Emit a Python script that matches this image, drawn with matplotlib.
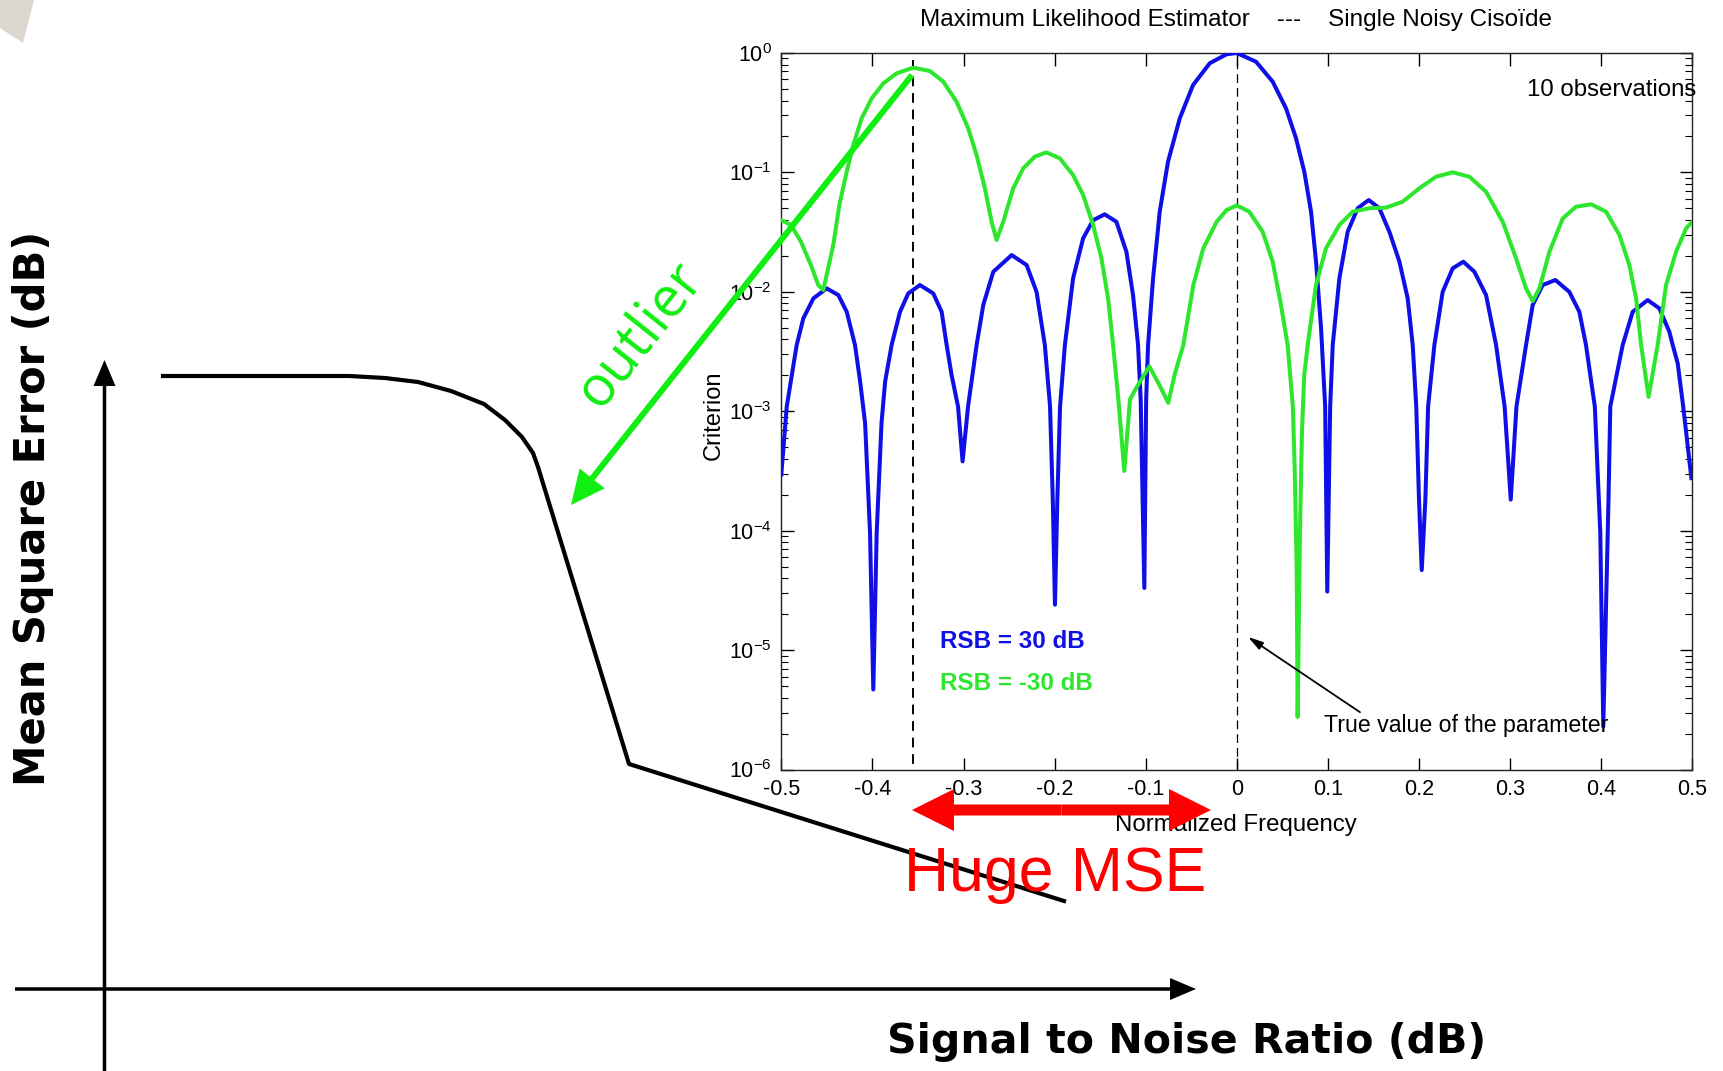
import numpy as np
import matplotlib
matplotlib.use("Agg")
import matplotlib.pyplot as plt
from matplotlib.patches import FancyArrow, Polygon
from matplotlib.ticker import FixedLocator, FixedFormatter, LogLocator, NullFormatter

plt.rcParams['axes.unicode_minus'] = False
plt.rcParams['font.family'] = ['Liberation Sans', 'DejaVu Sans']

# ---------------- inset data (criterion, log10 units) ----------------
blue_freq = [-0.500, -0.494, -0.4831, -0.4758, -0.4648, -0.4502, -0.4374, -0.4282, -0.4191, -0.4135,
             -0.408, -0.4026, -0.399, -0.3953, -0.390, -0.386, -0.3789, -0.3697, -0.3606, -0.3478,
             -0.3332, -0.3240, -0.3185, -0.313, -0.306, -0.301, -0.295, -0.2856, -0.2783, -0.2673,
             -0.2471, -0.2307, -0.2198, -0.2107, -0.205, -0.202, -0.1996, -0.197, -0.194, -0.1887,
             -0.1797, -0.1687, -0.1577, -0.145, -0.1322, -0.1212, -0.1139, -0.1084, -0.1055, -0.1015,
             -0.0995, -0.0974, -0.0919, -0.0846, -0.0755, -0.0626, -0.048, -0.0297, -0.0114, 0.000,
             0.0211, 0.0394, 0.0540, 0.065, 0.0741, 0.0815, 0.087, 0.0925, 0.097, 0.0993,
             0.1025, 0.1053, 0.1126, 0.1217, 0.1327, 0.1448, 0.1565, 0.1675, 0.1785, 0.1876,
             0.1931, 0.197, 0.200, 0.203, 0.207, 0.210, 0.2169, 0.226, 0.237, 0.2487,
             0.2608, 0.2736, 0.2846, 0.294, 0.3007, 0.307, 0.3175, 0.3248, 0.3358, 0.3497,
             0.365, 0.376, 0.3833, 0.393, 0.399, 0.4023, 0.408, 0.410, 0.4236, 0.4346,
             0.4510, 0.4638, 0.4748, 0.4785, 0.484, 0.490, 0.499]
blue_log10 = [-3.53, -2.96, -2.445, -2.222, -2.055, -1.971, -2.027, -2.167, -2.445, -2.75,
              -3.10, -4.02, -5.33, -4.02, -3.10, -2.75, -2.445, -2.167, -2.013, -1.943,
              -2.013, -2.167, -2.445, -2.70, -2.96, -3.42, -2.96, -2.445, -2.11, -1.832,
              -1.692, -1.776, -2.00, -2.445, -2.96, -3.74, -4.62, -3.74, -2.96, -2.445,
              -1.887, -1.552, -1.40, -1.351, -1.413, -1.664, -2.027, -2.445, -2.90, -4.48,
              -2.90, -2.445, -1.887, -1.329, -0.91, -0.547, -0.268, -0.086, -0.011, 0.000,
              -0.073, -0.24, -0.463, -0.714, -0.994, -1.329, -1.748, -2.306, -2.96, -4.51,
              -2.96, -2.445, -1.887, -1.497, -1.30, -1.231, -1.30, -1.497, -1.748, -2.055,
              -2.445, -2.96, -3.74, -4.33, -3.74, -2.96, -2.445, -2.00, -1.803, -1.748,
              -1.832, -2.027, -2.445, -2.96, -3.74, -2.96, -2.445, -2.11, -1.943, -1.901,
              -2.00, -2.167, -2.445, -2.96, -4.02, -5.64, -3.74, -2.96, -2.445, -2.167,
              -2.069, -2.138, -2.334, -2.445, -2.60, -2.96, -3.56]

green_freq = [-0.500, -0.4894, -0.4784, -0.4675, -0.4594, -0.4539, -0.443, -0.4363, -0.4282, -0.4209,
              -0.4118, -0.4008, -0.388, -0.3734, -0.3551, -0.3368, -0.3222, -0.3076, -0.2948, -0.2857,
              -0.2765, -0.2692, -0.2637, -0.2564, -0.2454, -0.2345, -0.2217, -0.2089, -0.1943, -0.1797,
              -0.1687, -0.1577, -0.1486, -0.1413, -0.1358, -0.130, -0.1235, -0.1172, -0.110, -0.096,
              -0.0843, -0.0752, -0.0678, -0.0587, -0.0477, -0.0368, -0.0221, -0.0112, 0.000, 0.0137,
              0.0284, 0.0394, 0.0485, 0.0558, 0.0615, 0.0635, 0.0657, 0.0668, 0.0693, 0.0715,
              0.074, 0.0778, 0.0869, 0.0979, 0.1126, 0.1272, 0.1455, 0.1638, 0.1821, 0.2004,
              0.2187, 0.237, 0.2553, 0.2736, 0.2919, 0.3065, 0.3175, 0.3248, 0.3322, 0.3432,
              0.3578, 0.3724, 0.3889, 0.4054, 0.4200, 0.4309, 0.4383, 0.4438, 0.452, 0.462,
              0.4712, 0.4822, 0.4932, 0.500]
green_log10 = [-1.40, -1.44, -1.58, -1.776, -1.943, -1.985, -1.61, -1.273, -0.994, -0.77,
               -0.547, -0.38, -0.254, -0.170, -0.123, -0.151, -0.240, -0.408, -0.631, -0.854,
               -1.133, -1.413, -1.566, -1.413, -1.133, -0.966, -0.868, -0.832, -0.882, -1.022,
               -1.189, -1.44, -1.72, -2.055, -2.445, -2.90, -3.50, -2.90, -2.80, -2.625,
               -2.79, -2.93, -2.68, -2.445, -1.943, -1.636, -1.413, -1.315, -1.276, -1.329,
               -1.497, -1.748, -2.11, -2.445, -2.96, -3.46, -4.30, -5.56, -4.02, -3.18,
               -2.70, -2.445, -1.943, -1.636, -1.44, -1.329, -1.30, -1.295, -1.245, -1.133,
               -1.036, -0.999, -1.036, -1.162, -1.413, -1.72, -1.971, -2.077, -1.971, -1.664,
               -1.385, -1.287, -1.267, -1.329, -1.524, -1.776, -2.055, -2.445, -2.88, -2.445,
               -1.943, -1.664, -1.468, -1.413]

xtick_values = [-0.5, -0.4, -0.3, -0.2, -0.1, 0.0, 0.1, 0.2, 0.3, 0.4, 0.5]
xtick_labels = ['-0.5', '-0.4', '-0.3', '-0.2', '-0.1', '0', '0.1', '0.2', '0.3', '0.4', '0.5']
true_freq = 0.0
outlier_freq = -0.355

# ---------------- schematic (MSE vs SNR) in page-pixel units ----------------
mse_curve_snr = [163, 349, 385, 418, 451, 484, 505, 522, 533, 538, 629, 1064]
mse_curve_mse = [376, 376, 378, 382, 391, 404, 420, 437, 453, 467, 764, 901]

W, H = 1723, 1071
fig = plt.figure(figsize=(W / 100, H / 100), dpi=100)
fig.patch.set_facecolor('white')

bg = fig.add_axes([0, 0, 1, 1], zorder=0)
bg.set_xlim(0, W)
bg.set_ylim(H, 0)
bg.axis('off')

# slide decoration in corner
bg.add_patch(Polygon([[0, 0], [34, 0], [23, 43], [0, 28]], closed=True,
                     facecolor='#dcd7cf', edgecolor='none'))

# schematic axes
bg.add_patch(FancyArrow(104.5, H, 0, 360 - H, width=3.5, head_width=22, head_length=26,
                        length_includes_head=True, color='black', lw=0))
bg.add_patch(FancyArrow(15, 989, 1196 - 15, 0, width=3.5, head_width=22, head_length=26,
                        length_includes_head=True, color='black', lw=0))
bg.plot(mse_curve_snr, mse_curve_mse, color='black', lw=3.0, solid_joinstyle='round')

bg.text(33, 508, 'Mean Square Error (dB)', rotation=90, ha='center', va='center',
        fontsize=30, fontweight='bold', family='DejaVu Sans')
bg.text(1080 * 1.0989, 1042, 'Signal to Noise Ratio (dB)', ha='center', va='center',
        fontsize=29.6, fontweight='bold', family='DejaVu Sans')

# ---------------- inset criterion plot ----------------
x0, x1, y0, y1 = 781.3, 1692.3, 53.0, 769.5
ax = fig.add_axes([x0 / W, 1 - y1 / H, (x1 - x0) / W, (y1 - y0) / H], zorder=2)
ax.set_facecolor('white')
ax.set_yscale('log')
ax.set_xlim(-0.5, 0.5)
ax.set_ylim(1e-6, 1)

ax.plot(blue_freq, 10.0 ** np.array(blue_log10), color='#1010e6', lw=2.9, zorder=3,
        solid_joinstyle='round')
ax.plot(green_freq, 10.0 ** np.array(green_log10), color='#2ee62e', lw=2.9, zorder=3,
        solid_joinstyle='round')

ax.plot([outlier_freq, outlier_freq], [0.87, 1e-6], color='black', lw=1.4,
        dashes=(5, 3.5), zorder=2, clip_on=False)
ax.axvline(true_freq, color='black', lw=0.9, dashes=(7, 4), zorder=2)

ax.xaxis.set_major_locator(FixedLocator(xtick_values))
ax.xaxis.set_major_formatter(FixedFormatter(xtick_labels))
ax.yaxis.set_major_locator(LogLocator(base=10, numticks=10))
ax.yaxis.set_minor_locator(LogLocator(base=10, subs=np.arange(2, 10), numticks=20))
ax.yaxis.set_minor_formatter(NullFormatter())
ax.tick_params(which='major', direction='in', top=True, right=True, length=9, width=1,
               labelsize=15.5, pad=7)
ax.tick_params(which='minor', direction='in', left=True, right=True, length=5, width=0.8)
for s in ax.spines.values():
    s.set_linewidth(1.0)
    s.set_color('#222222')

ax.text(-0.326, 10 ** -4.93, 'RSB = 30 dB', color='#1010e6', fontweight='bold',
        fontsize=17.5, ha='left', va='center')
ax.text(-0.326, 10 ** -5.28, 'RSB = -30 dB', color='#2ee62e', fontweight='bold',
        fontsize=17.5, ha='left', va='center')
ax.annotate('', xy=(0.0123, 10 ** -4.89), xytext=(0.1352, 10 ** -5.52),
            arrowprops=dict(arrowstyle='-|>,head_length=0.9,head_width=0.25',
                            color='black', lw=1.3, shrinkA=0, shrinkB=0))
ax.text(0.0957, 10 ** -5.63, 'True value of the parameter', fontsize=16.7,
        ha='left', va='center')

fig.text(1236 / W, 1 - 20 / H, 'Maximum Likelihood Estimator    ---    Single Noisy Cisoïde',
         ha='center', va='center', fontsize=17.5)
fig.text(1527 / W, 1 - 90 / H, '10 observations', ha='left', va='center', fontsize=17.3,
         zorder=5)
fig.text(714 / W, 1 - 415 / H, 'Criterion', rotation=90, ha='center', va='center',
         fontsize=17)
fig.text(1236 / W, 1 - 825 / H, 'Normalized Frequency', ha='center', va='center',
         fontsize=17.3)

# ---------------- overlay annotations ----------------
top = fig.add_axes([0, 0, 1, 1], zorder=5)
top.set_xlim(0, W)
top.set_ylim(H, 0)
top.axis('off')
top.patch.set_alpha(0)

top.add_patch(FancyArrow(912, 75, 571 - 912, 505 - 75, width=6, head_width=32, head_length=34,
                         length_includes_head=True, color='#11ee11', lw=0))
top.text(641, 335, 'outlier', rotation=51.6, rotation_mode='anchor', ha='center', va='center',
         color='#11ee11', fontsize=40, family='Open Sans')

mid = (912 + 1211) / 2
for tip in (912, 1211):
    top.add_patch(FancyArrow(mid, 810, tip - mid, 0, width=11, head_width=42, head_length=42,
                             length_includes_head=True, color='#ff0000', lw=0))
top.text(1055, 874, 'Huge MSE', color='#ff0000', fontsize=45, ha='center', va='center')

fig.savefig('out.png', dpi=100, facecolor='white')
